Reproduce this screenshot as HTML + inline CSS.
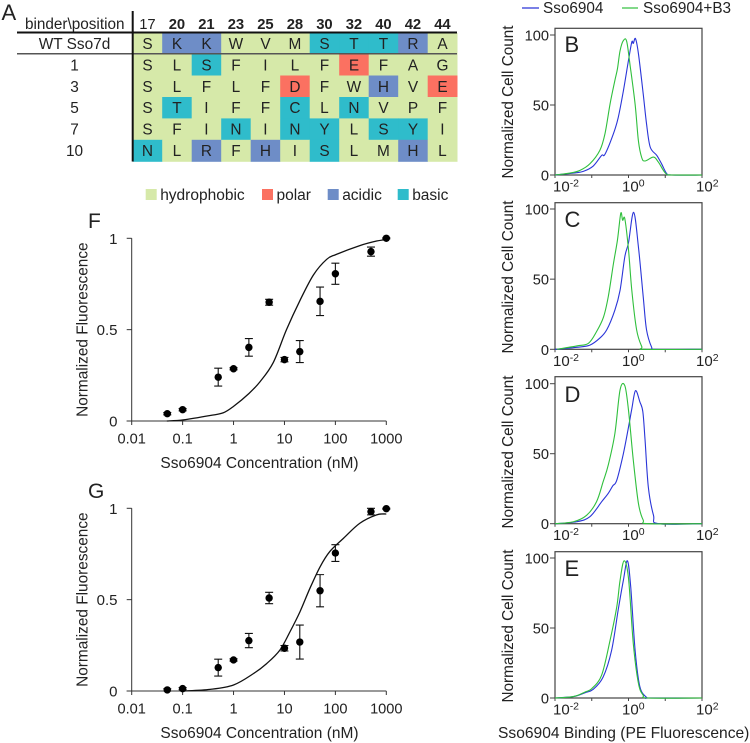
<!DOCTYPE html>
<html>
<head>
<meta charset="utf-8">
<style>
html,body{margin:0;padding:0;background:#fff;}
svg{display:block;}
text{font-family:"Liberation Sans",sans-serif;fill:#222;}
</style>
</head>
<body>
<svg id="fig" width="750" height="743" viewBox="0 0 750 743" xmlns="http://www.w3.org/2000/svg"></svg>
<script>
/* ---------- Table data ---------- */
var positions = ['17','20','21','23','25','28','30','32','40','42','44'];
var binders = ['WT Sso7d','1','3','5','7','10'];
var residues = [
  ['S','K','K','W','V','M','S','T','T','R','A'],
  ['S','L','S','F','I','L','F','E','F','A','G'],
  ['S','L','F','L','F','D','F','W','H','V','E'],
  ['S','T','I','F','F','C','L','N','V','P','F'],
  ['S','F','I','N','I','N','Y','L','S','Y','I'],
  ['N','L','R','F','H','I','S','L','M','H','L']
];
var residueClasses = [
  ['h','a','a','h','h','h','b','b','b','a','h'],
  ['h','h','b','h','h','h','h','p','h','h','h'],
  ['h','h','h','h','h','p','h','h','a','h','p'],
  ['h','b','h','h','h','b','h','b','h','h','h'],
  ['h','h','h','b','h','b','b','h','b','b','h'],
  ['b','h','a','h','a','h','b','h','h','a','h']
];

/* ---------- Dose-response data ---------- */
var concentrations = [0.05,0.1,0.5,1,2,5,10,20,50,100,500,1000];
var concTickValues = [0.01,0.1,1,10,100,1000];
var concTickLabels = ['0.01','0.1','1','10','100','1000'];
var fluorTickValues = [0,0.5,1];
var fluorTickLabels = ['0','0.5','1'];

var fMeans = [0.04,0.062,0.24,0.286,0.403,0.65,0.336,0.38,0.655,0.806,0.927,1.0];
var fErrors = [0.006,0.006,0.049,0.006,0.048,0.016,0.012,0.06,0.078,0.058,0.025,0.003];
var fFitLogConc = [-1.31,-0.99,-0.46,-0.2,0,0.3,0.52,0.78,1.04,1.305,1.57,1.83,2.02,2.48,2.81,3];
var fFitValues = [0,0.006,0.03,0.045,0.08,0.15,0.215,0.32,0.5,0.66,0.8,0.885,0.912,0.96,0.985,0.993];

var gMeans = [0.006,0.013,0.128,0.17,0.276,0.509,0.234,0.268,0.549,0.755,0.982,0.998];
var gErrors = [0.006,0.006,0.046,0.006,0.039,0.031,0.015,0.093,0.088,0.046,0.018,0.003];
var gFitLogConc = [-0.99,-0.46,0,0.39,0.65,0.91,1.11,1.305,1.5,1.7,1.89,2.16,2.48,2.81,3];
var gFitValues = [0,0.009,0.033,0.095,0.15,0.224,0.325,0.434,0.562,0.68,0.763,0.836,0.918,0.964,0.969];

/* ---------- Flow cytometry data ---------- */
var countTicks = [0,50,100];
var bBlueLog = [-2,-1.5,-1.23,-0.96,-0.73,-0.64,-0.41,-0.28,-0.14,0,0.09,0.13,0.19,0.27,0.4,0.49,0.59,0.77,0.9,1.04,1.17,2];
var bBlueCount = [0,1.4,2.6,6.4,14,14.8,29.5,41,60,82,95,94,97.4,86.7,58,36.7,20,14,8,1,0,0];
var bGreenLog = [-2,-1.59,-1.32,-1.05,-0.78,-0.64,-0.5,-0.37,-0.3,-0.23,-0.14,-0.05,0.04,0.18,0.27,0.36,0.45,0.68,0.81,0.95,1.04,1.17,2];
var bGreenCount = [0,1.4,3.3,8,17.6,29.5,51,67.6,76,88.7,96,95.5,79,50.5,24.3,12.4,10,12.8,9.3,3.3,0.5,0,0];

var cBlueLog = [-2,-1.41,-1.05,-0.78,-0.59,-0.37,-0.23,-0.1,0,0.14,0.27,0.4,0.49,0.63,0.72,2];
var cBlueCount = [0,1.4,3,8,14,28,42,66,76,97.6,73,37.6,14,1.4,0,0];
var cGreenLog = [-1.95,-1.41,-1.09,-0.87,-0.68,-0.55,-0.41,-0.3,-0.21,-0.16,-0.1,0,0.09,0.22,0.36,0.45,2];
var cGreenCount = [0,2.4,4.3,12.6,23,37.6,61,78,97,92,93,71,42,14,2,0,0];

var dBlueLog = [-2,-1.41,-1.05,-0.73,-0.55,-0.43,-0.32,-0.14,0,0.09,0.19,0.31,0.39,0.45,0.54,0.68,0.81,2];
var dBlueCount = [0,1.4,5,15.7,21.7,27,31,50,69,82,95,87,80,60,26,6,0,0];
var dGreenLog = [-2,-1.5,-1.14,-0.87,-0.69,-0.55,-0.37,-0.23,-0.1,0,0.13,0.27,0.4,0.54,2];
var dGreenCount = [0,1.4,6,15.7,30,42,64.5,95.5,98.6,81,45.5,14.5,2.6,0,0];

var eBlueLog = [-2,-1.5,-1.18,-0.96,-0.69,-0.46,-0.28,-0.14,-0.03,0.06,0.18,0.31,0.49,0.58,2];
var eBlueCount = [0,1,3.8,6.2,15,34,63,84,98,79.5,34,8,0.5,0,0];
var eGreenLog = [-2,-1.5,-1.18,-1,-0.73,-0.5,-0.32,-0.23,-0.12,0,0.13,0.27,0.4,0.54,2];
var eGreenCount = [0,1,4.3,6.7,16.4,41.4,65,84,98,85.5,39,10.5,2,0,0];

/* ---------- Helpers ---------- */
var NS = 'http://www.w3.org/2000/svg';
var root = document.getElementById('fig');
function mk(tag, attrs, parent, txt) {
  var el = document.createElementNS(NS, tag);
  for (var k in attrs) el.setAttribute(k, attrs[k]);
  if (txt !== undefined) el.textContent = txt;
  (parent || root).appendChild(el);
  return el;
}
function label(name, el) {
  
  
  return el;
}
function smooth(pts) {
  var d = 'M' + pts[0][0].toFixed(2) + ' ' + pts[0][1].toFixed(2);
  for (var i = 0; i < pts.length - 1; i++) {
    var p0 = pts[Math.max(i - 1, 0)], p1 = pts[i], p2 = pts[i + 1], p3 = pts[Math.min(i + 2, pts.length - 1)];
    var c1x = p1[0] + (p2[0] - p0[0]) / 6, c1y = p1[1] + (p2[1] - p0[1]) / 6;
    var c2x = p2[0] - (p3[0] - p1[0]) / 6, c2y = p2[1] - (p3[1] - p1[1]) / 6;
    d += 'C' + c1x.toFixed(2) + ' ' + c1y.toFixed(2) + ' ' + c2x.toFixed(2) + ' ' + c2y.toFixed(2) + ' ' + p2[0].toFixed(2) + ' ' + p2[1].toFixed(2);
  }
  return d;
}

/* ---------- Panel A ---------- */
var classColors = {h:'#d6e9a9', p:'#fb7161', a:'#6e8dc7', b:'#2fbccb'};
var tableLeft = 132.7, cellW = 29.5;
var rowTops = [33, 54, 75.5, 97, 118.4, 139.8];
var rowH = [21, 21.5, 21.5, 21.4, 21.4, 21.7];

label('panel-a-label', mk('text', {x:1.5, y:20, 'font-size':22}, root, 'A'));
label('table-corner-header', mk('text', {x:124.5, y:29, 'font-size':15.3, 'text-anchor':'end'}, root, 'binder\\position'));

positions.forEach(function (p, c) {
  var t = mk('text', {x:tableLeft + cellW * (c + 0.5), y:29, 'font-size':14.8, 'text-anchor':'middle', 'font-weight': c === 0 ? 'normal' : 'bold'}, root, p);
  label('position-header-' + p, t);
});
binders.forEach(function (b, r) {
  var t = mk('text', {x: 74.5, y:rowTops[r] + rowH[r] / 2 + 5.5, 'font-size':15.4, 'text-anchor':'middle'}, root, b);
  label('binder-label-' + b.toLowerCase().replace(/\s+/g, '-'), t);
  residues[r].forEach(function (res, c) {
    var x = tableLeft + cellW * c;
    var cell = mk('rect', {x:x, y:rowTops[r], width:cellW + 0.3, height:rowH[r] + 0.3, fill:classColors[residueClasses[r][c]]});
    label('cell-' + r + '-' + positions[c], cell);
    var rt = mk('text', {x:x + cellW / 2, y:rowTops[r] + rowH[r] / 2 + 5.5, 'font-size':15.4, 'text-anchor':'middle'}, root, res);
    label('residue-' + r + '-' + positions[c], rt);
  });
});
label('table-header-rule', mk('line', {x1:17, x2:457, y1:32.5, y2:32.5, stroke:'#111', 'stroke-width':2}));
label('table-wt-rule', mk('line', {x1:17, x2:457, y1:53.8, y2:53.8, stroke:'#555', 'stroke-width':1.5}));
label('table-vertical-rule', mk('line', {x1:132.7, x2:132.7, y1:11, y2:161.5, stroke:'#111', 'stroke-width':2}));

var legendNames = ['hydrophobic','polar','acidic','basic'];
var legendKeys = ['h','p','a','b'];
var legendSwatchX = [145.7,262,327.7,397.7];
legendNames.forEach(function (n, i) {
  var s = mk('rect', {x:legendSwatchX[i], y:189, width:11, height:11, fill:classColors[legendKeys[i]]});
  label('legend-swatch-' + n, s);
  var t = mk('text', {x:legendSwatchX[i] + 14.5, y:200, 'font-size':15.5, fill:'#222'}, root, n);
  label('legend-entry-' + n, t);
});

/* ---------- Panels F & G ---------- */
function doseChart(cfg) {
  var g = mk('g', {}, root);
  label('chart-' + cfg.id, g);
  var x0 = 131.7, x1 = 386.3;
  var xS = function (logC) { return x0 + (logC + 2) * (x1 - x0) / 5; };
  var yS = function (v) { return cfg.y0 + (cfg.y1 - cfg.y0) * v; };

  label('panel-' + cfg.id + '-label', mk('text', {x:88, y:cfg.y0 - 193, 'font-size':21}, g, cfg.id.toUpperCase()));
  label('y-axis-' + cfg.id, mk('line', {x1:x0, x2:x0, y1:yS(1), y2:yS(0), stroke:'#333', 'stroke-width':1}, g));
  label('x-axis-' + cfg.id, mk('line', {x1:x0 - 5, x2:x1, y1:yS(0), y2:yS(0), stroke:'#333', 'stroke-width':1}, g));

  fluorTickValues.forEach(function (v, i) {
    label('y-tick-' + cfg.id, mk('line', {x1:x0 - 5, x2:x0, y1:yS(v), y2:yS(v), stroke:'#333'}, g));
    label('y-tick-label-' + cfg.id, mk('text', {x:117.5, y:yS(v) + 5.5, 'font-size':15, 'text-anchor':'end'}, g, fluorTickLabels[i]));
  });
  concTickValues.forEach(function (c, i) {
    var x = xS(Math.log10(c));
    label('x-tick-' + cfg.id, mk('line', {x1:x, x2:x, y1:yS(0), y2:yS(0) + 4, stroke:'#333'}, g));
    label('x-tick-label-' + cfg.id, mk('text', {x:x, y:yS(0) + 22.5, 'font-size':14.6, 'text-anchor':'middle'}, g, concTickLabels[i]));
  });
  label('x-axis-title-' + cfg.id, mk('text', {x:259.5, y:yS(0) + 47, 'font-size':15.5, 'text-anchor':'middle'}, g, 'Sso6904 Concentration (nM)'));
  var cy = yS(0.5);
  label('y-axis-title-' + cfg.id, mk('text', {x:0, y:0, 'font-size':15.4, 'text-anchor':'middle', transform:'translate(87.5 ' + cy + ') rotate(-90)'}, g, 'Normalized Fluorescence'));

  var pts = cfg.fitLog.map(function (l, i) { return [xS(l), yS(cfg.fitVal[i])]; });
  label('fit-curve-' + cfg.id, mk('path', {d:smooth(pts), fill:'none', stroke:'#111', 'stroke-width':1.3}, g));

  concentrations.forEach(function (c, i) {
    var x = xS(Math.log10(c)), m = cfg.means[i], e = cfg.errs[i];
    var hi = yS(m + e), lo = yS(m - e);
    label('error-bar-' + cfg.id, mk('path', {d:'M' + (x - 4) + ' ' + hi + 'H' + (x + 4) + 'M' + (x - 4) + ' ' + lo + 'H' + (x + 4) + 'M' + x + ' ' + hi + 'V' + lo, fill:'none', stroke:'#111', 'stroke-width':1.1}, g));
    label('data-point-' + cfg.id, mk('circle', {cx:x, cy:yS(m), r:3.7, fill:'#000'}, g));
  });
}
doseChart({id:'f', y0:421, y1:238.3, means:fMeans, errs:fErrors, fitLog:fFitLogConc, fitVal:fFitValues});
doseChart({id:'g', y0:691, y1:508.3, means:gMeans, errs:gErrors, fitLog:gFitLogConc, fitVal:gFitValues});

/* ---------- Panels B-E ---------- */
function flowChart(cfg) {
  var g = mk('g', {}, root);
  label('histogram-' + cfg.id, g);
  var L = 555, R = 702;
  var xS = function (lg) { return L + (lg + 2) * (R - L) / 4; };
  var yS = function (n) { return cfg.bottom - n * (cfg.bottom - cfg.y100) / 100; };

  label('frame-' + cfg.id, mk('rect', {x:L, y:cfg.top, width:R - L, height:cfg.bottom - cfg.top, fill:'#fff', stroke:'#444', 'stroke-width':1.2}, g));
  countTicks.forEach(function (n) {
    label('count-tick-' + cfg.id, mk('line', {x1:L - 5, x2:L, y1:yS(n), y2:yS(n), stroke:'#444'}, g));
    label('count-tick-label-' + cfg.id, mk('text', {x:549, y:yS(n) + 5.5, 'font-size':14.6, 'text-anchor':'end'}, g, String(n)));
  });
  var decades = [-2,-1,0,1,2];
  decades.forEach(function (d) {
    var x = xS(d);
    label('x-tick-' + cfg.id, mk('line', {x1:x, x2:x, y1:cfg.bottom, y2:cfg.bottom + 3, stroke:'#444'}, g));
    if (d % 2 === 0) {
      var t = mk('text', {x:(d === -2 ? 553 : d === 0 ? 622 : 696), y:cfg.bottom + 16.5, 'font-size':15}, g, '10');
      label('x-tick-label-' + cfg.id, t);
      var sup = mk('tspan', {dy:-5, 'font-size':10.5}, t, String(d));
      label('x-tick-exponent-' + cfg.id, sup);
    }
  });
  label('y-axis-title-' + cfg.id, mk('text', {x:0, y:0, 'font-size':15.3, 'text-anchor':'middle', transform:'translate(513 ' + cfg.titleY + ') rotate(-90)'}, g, 'Normalized Cell Count'));
  label('panel-' + cfg.id + '-label', mk('text', {x:564.5, y:cfg.letterY, 'font-size':22}, g, cfg.id.toUpperCase()));

  var bp = cfg.blueLog.map(function (l, i) { return [xS(l), yS(cfg.blueCount[i])]; });
  var gp = cfg.greenLog.map(function (l, i) { return [xS(l), yS(cfg.greenCount[i])]; });
  label('sso6904-trace-' + cfg.id, mk('path', {d:smooth(bp), fill:'none', stroke:'#2a35d8', 'stroke-width':1.1, 'stroke-linejoin':'round'}, g));
  label('sso6904-b3-trace-' + cfg.id, mk('path', {d:smooth(gp), fill:'none', stroke:'#2fbf3c', 'stroke-width':1.1, 'stroke-linejoin':'round'}, g));
}
flowChart({id:'b', top:28.3, bottom:175, y100:35, titleY:102, letterY:52, blueLog:bBlueLog, blueCount:bBlueCount, greenLog:bGreenLog, greenCount:bGreenCount});
flowChart({id:'c', top:202.7, bottom:349.3, y100:209, titleY:277, letterY:227, blueLog:cBlueLog, blueCount:cBlueCount, greenLog:cGreenLog, greenCount:cGreenCount});
flowChart({id:'d', top:376.7, bottom:523.7, y100:383.7, titleY:452, letterY:402, blueLog:dBlueLog, blueCount:dBlueCount, greenLog:dGreenLog, greenCount:dGreenCount});
flowChart({id:'e', top:551.7, bottom:698, y100:558, titleY:626, letterY:576, blueLog:eBlueLog, blueCount:eBlueCount, greenLog:eGreenLog, greenCount:eGreenCount});

/* ---------- Top legend & shared title ---------- */
label('legend-line-sso6904', mk('line', {x1:522, x2:539, y1:8, y2:8, stroke:'#2a35d8', 'stroke-width':1.2}));
label('legend-entry-sso6904', mk('text', {x:543, y:13, 'font-size':15.3}, root, 'Sso6904'));
label('legend-line-sso6904-b3', mk('line', {x1:622, x2:638, y1:8, y2:8, stroke:'#2fbf3c', 'stroke-width':1.2}));
label('legend-entry-sso6904-b3', mk('text', {x:643, y:13, 'font-size':15.3}, root, 'Sso6904+B3'));
label('x-axis-title-histograms', mk('text', {x:498, y:738, 'font-size':15.6}, root, 'Sso6904 Binding (PE Fluorescence)'));
</script>
</body>
</html>
